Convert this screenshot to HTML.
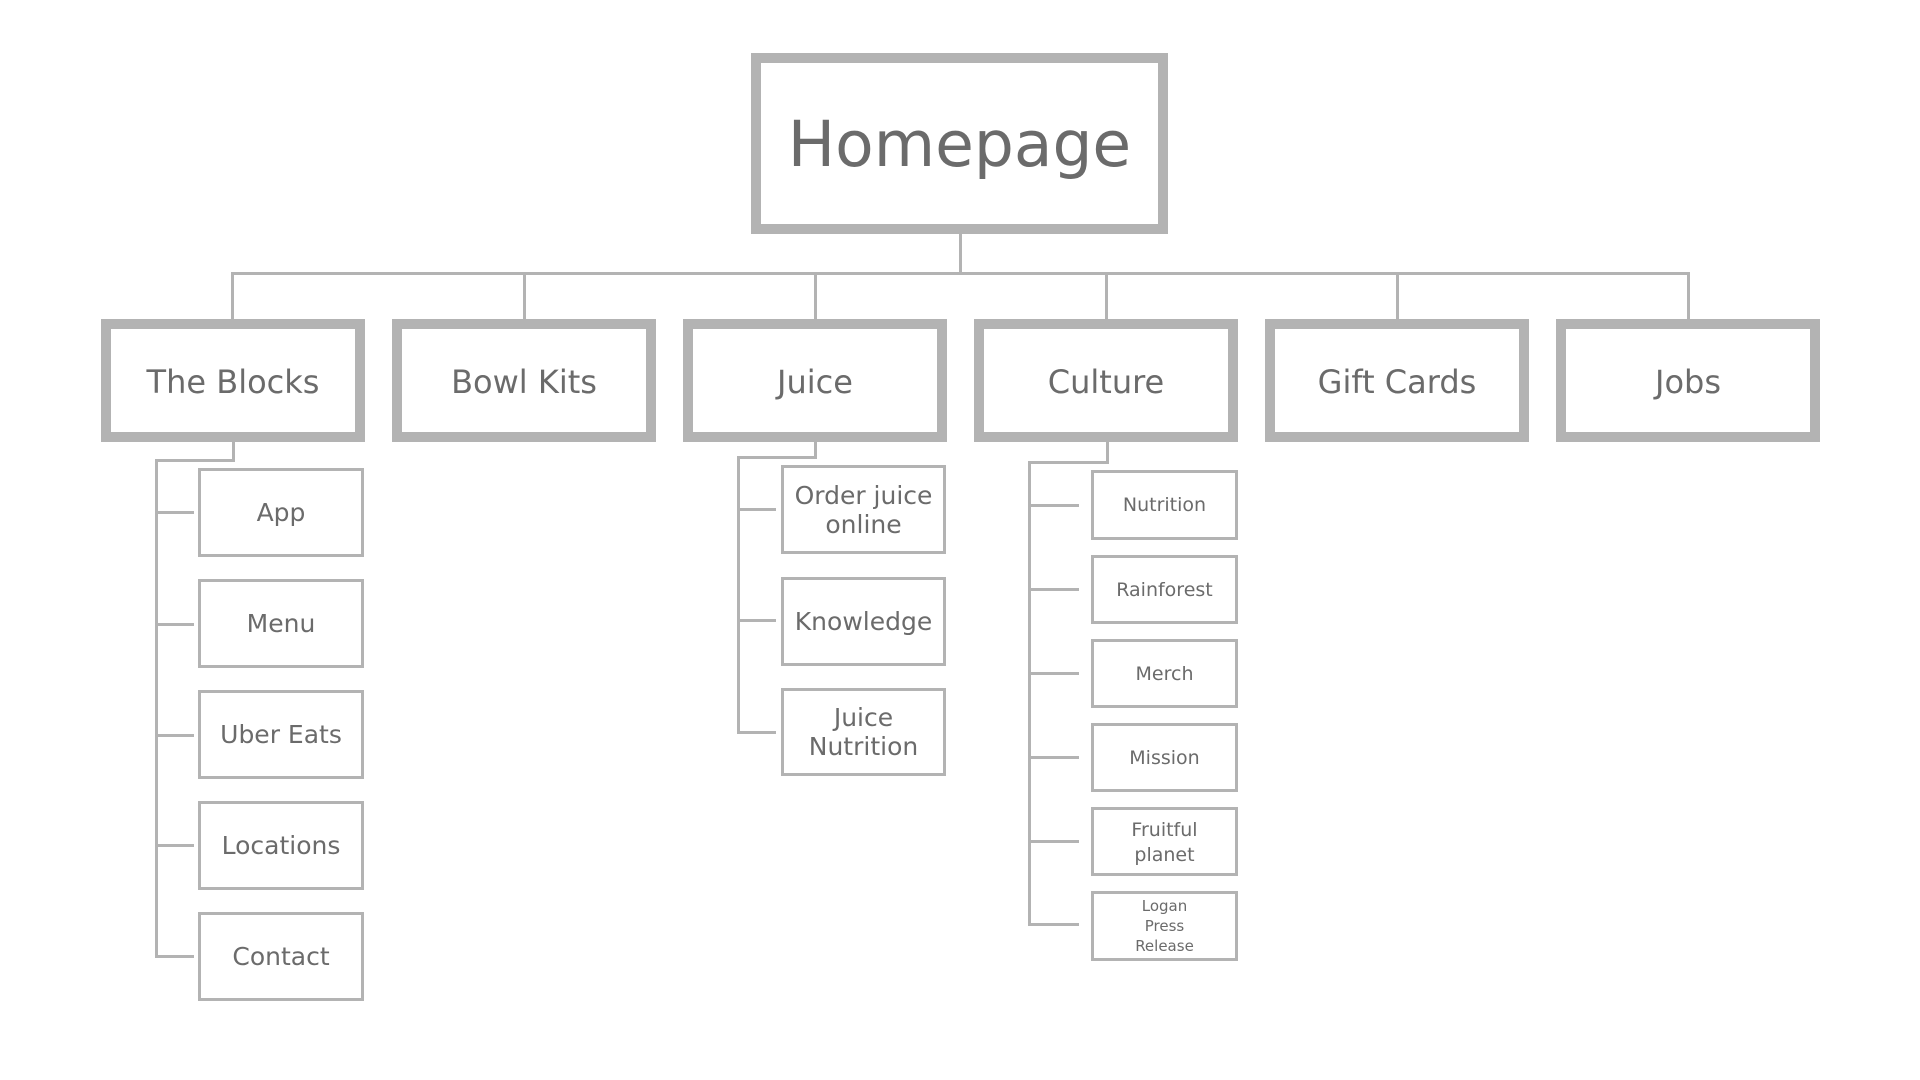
<!DOCTYPE html>
<html><head><meta charset="utf-8"><style>
html,body{margin:0;padding:0;background:#fff;width:1920px;height:1080px;overflow:hidden;position:relative;font-family:"DejaVu Sans","Liberation Sans",sans-serif;color:#6b6b6b}
.b{position:absolute;box-sizing:border-box;border:3px solid #b3b3b3;display:flex;align-items:center;justify-content:center;text-align:center;background:#fff;line-height:1.15}
.t{border-width:10px;font-size:32px;padding-top:3px}
.s{font-size:25px;padding-top:2px}
.c{font-size:19px;padding-top:2px}
.l{position:absolute;background:#b3b3b3}
</style></head><body>
<div class="b" style="left:751px;top:53px;width:417px;height:181px;border-width:10px;font-size:63px;padding-top:4px">Homepage</div>
<div class="l" style="left:959px;top:234px;width:3px;height:40px"></div>
<div class="l" style="left:233px;top:272px;width:1457px;height:3px"></div>
<div class="l" style="left:231px;top:272px;width:3px;height:48px"></div>
<div class="l" style="left:523px;top:272px;width:3px;height:48px"></div>
<div class="l" style="left:814px;top:272px;width:3px;height:48px"></div>
<div class="l" style="left:1105px;top:272px;width:3px;height:48px"></div>
<div class="l" style="left:1396px;top:272px;width:3px;height:48px"></div>
<div class="l" style="left:1687px;top:272px;width:3px;height:48px"></div>
<div class="b t" style="left:101px;top:319px;width:264px;height:123px">The Blocks</div>
<div class="b t" style="left:392px;top:319px;width:264px;height:123px">Bowl Kits</div>
<div class="b t" style="left:683px;top:319px;width:264px;height:123px">Juice</div>
<div class="b t" style="left:974px;top:319px;width:264px;height:123px">Culture</div>
<div class="b t" style="left:1265px;top:319px;width:264px;height:123px">Gift Cards</div>
<div class="b t" style="left:1556px;top:319px;width:264px;height:123px">Jobs</div>
<div class="l" style="left:232px;top:442px;width:3px;height:19px"></div>
<div class="l" style="left:155px;top:459px;width:80px;height:3px"></div>
<div class="l" style="left:155px;top:459px;width:3px;height:499px"></div>
<div class="l" style="left:155px;top:511px;width:39px;height:3px"></div>
<div class="l" style="left:155px;top:623px;width:39px;height:3px"></div>
<div class="l" style="left:155px;top:734px;width:39px;height:3px"></div>
<div class="l" style="left:155px;top:844px;width:39px;height:3px"></div>
<div class="l" style="left:155px;top:955px;width:39px;height:3px"></div>
<div class="b s" style="left:198px;top:468px;width:166px;height:89px">App</div>
<div class="b s" style="left:198px;top:579px;width:166px;height:89px">Menu</div>
<div class="b s" style="left:198px;top:690px;width:166px;height:89px">Uber Eats</div>
<div class="b s" style="left:198px;top:801px;width:166px;height:89px">Locations</div>
<div class="b s" style="left:198px;top:912px;width:166px;height:89px">Contact</div>
<div class="l" style="left:814px;top:442px;width:3px;height:16px"></div>
<div class="l" style="left:737px;top:456px;width:80px;height:3px"></div>
<div class="l" style="left:737px;top:456px;width:3px;height:278px"></div>
<div class="l" style="left:737px;top:508px;width:39px;height:3px"></div>
<div class="l" style="left:737px;top:619px;width:39px;height:3px"></div>
<div class="l" style="left:737px;top:731px;width:39px;height:3px"></div>
<div class="b s" style="left:781px;top:465px;width:165px;height:89px">Order juice<br>online</div>
<div class="b s" style="left:781px;top:577px;width:165px;height:89px">Knowledge</div>
<div class="b s" style="left:781px;top:688px;width:165px;height:88px">Juice<br>Nutrition</div>
<div class="l" style="left:1106px;top:442px;width:3px;height:21px"></div>
<div class="l" style="left:1028px;top:461px;width:81px;height:3px"></div>
<div class="l" style="left:1028px;top:461px;width:3px;height:465px"></div>
<div class="l" style="left:1028px;top:504px;width:51px;height:3px"></div>
<div class="l" style="left:1028px;top:588px;width:51px;height:3px"></div>
<div class="l" style="left:1028px;top:672px;width:51px;height:3px"></div>
<div class="l" style="left:1028px;top:756px;width:51px;height:3px"></div>
<div class="l" style="left:1028px;top:840px;width:51px;height:3px"></div>
<div class="l" style="left:1028px;top:923px;width:51px;height:3px"></div>
<div class="b c" style="left:1091px;top:470px;width:147px;height:70px">Nutrition</div>
<div class="b c" style="left:1091px;top:555px;width:147px;height:69px">Rainforest</div>
<div class="b c" style="left:1091px;top:639px;width:147px;height:69px">Merch</div>
<div class="b c" style="left:1091px;top:723px;width:147px;height:69px">Mission</div>
<div class="b c" style="left:1091px;top:807px;width:147px;height:69px;line-height:1.3">Fruitful<br>planet</div>
<div class="b" style="left:1091px;top:891px;width:147px;height:70px;font-size:15px;line-height:1.35">Logan<br>Press<br>Release</div>
</body></html>
